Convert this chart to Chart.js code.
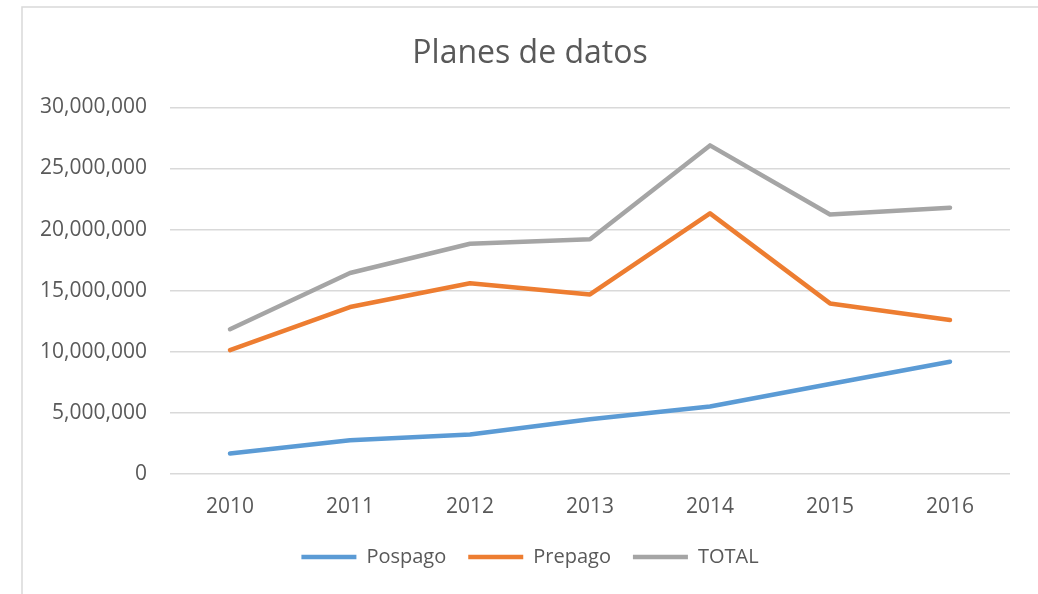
<!DOCTYPE html>
<html>
<head>
<meta charset="utf-8">
<script src="https://cdn.jsdelivr.net/npm/chart.js@4/dist/chart.umd.min.js"></script>
<style>
  html, body { margin: 0; padding: 0; background: #ffffff; }
  #wrap { width: 1038px; height: 594px; position: relative; }
</style>
</head>
<body>
<div id="wrap"><canvas id="chart" width="1038" height="594"></canvas></div>
<script>
// Years on the category axis
const years = ['2010', '2011', '2012', '2013', '2014', '2015', '2016'];

// Data plans per year
const pospago = [1680000, 2760000, 3230000, 4480000, 5530000, 7370000, 9190000];
const prepago = [10140000, 13660000, 15610000, 14690000, 21330000, 13960000, 12600000];
const total   = [11850000, 16450000, 18840000, 19210000, 26890000, 21240000, 21790000];

// Value-axis ticks
const yTicks = [0, 5000000, 10000000, 15000000, 20000000, 25000000, 30000000];

const TEXT = '#595959';
const GRID = '#d9d9d9';
const FONT = '"Open Sans", "Liberation Sans", sans-serif';

// White background plus the thin outer frame of the chart object
const frame = {
  id: 'frame',
  beforeDraw(chart) {
    const ctx = chart.ctx;
    ctx.save();
    ctx.fillStyle = '#ffffff';
    ctx.fillRect(0, 0, chart.width, chart.height);
    ctx.strokeStyle = GRID;
    ctx.lineWidth = 1.5;
    ctx.strokeRect(22, 7, chart.width + 20, chart.height + 20);
    ctx.restore();
  }
};

function series(label, data, color) {
  return {
    label,
    data,
    borderColor: color,
    backgroundColor: color,
    borderWidth: 4.5,
    borderCapStyle: 'round',
    borderJoinStyle: 'round',
    pointRadius: 0,
    pointHoverRadius: 0,
    tension: 0,
    fill: false
  };
}

new Chart(document.getElementById('chart'), {
  type: 'line',
  data: {
    labels: years,
    datasets: [
      series('Pospago', pospago, '#5B9BD5'),
      series('Prepago', prepago, '#ED7D31'),
      series('TOTAL', total, '#A5A5A5')
    ]
  },
  options: {
    responsive: false,
    animation: false,
    devicePixelRatio: 1,
    layout: { padding: { left: 22, right: 0, top: 0, bottom: 17 } },
    plugins: {
      title: {
        display: true,
        text: 'Planes de datos',
        color: TEXT,
        font: { family: FONT, size: 32, weight: 'normal' },
        padding: { top: 35, bottom: 34 }
      },
      legend: {
        position: 'bottom',
        labels: {
          usePointStyle: true,
          pointStyle: 'line',
          pointStyleWidth: 55,
          padding: 22,
          color: TEXT,
          font: { family: FONT, size: 20 }
        }
      },
      tooltip: { enabled: false }
    },
    scales: {
      x: {
        offset: true,
        grid: { display: false, drawTicks: false },
        border: { display: false },
        afterFit(scale) { scale.height = 51; },
        ticks: { color: TEXT, padding: 20, font: { family: FONT, size: 21 } }
      },
      y: {
        min: 0,
        max: 30000000,
        afterBuildTicks(scale) {
          scale.ticks = yTicks.map(v => ({ value: v }));
        },
        afterFit(scale) { scale.width = 148; },
        grid: { color: GRID, lineWidth: 1.5, drawTicks: false },
        border: { display: false },
        ticks: {
          color: TEXT,
          padding: 23,
          font: { family: FONT, size: 21 },
          callback: v => Number(v).toLocaleString('en-US')
        }
      },
      spacer: {
        position: 'right',
        display: true,
        grid: { display: false },
        border: { display: false },
        ticks: { display: false },
        afterFit(scale) { scale.width = 28; }
      }
    }
  },
  plugins: [frame]
});
</script>
</body>
</html>
